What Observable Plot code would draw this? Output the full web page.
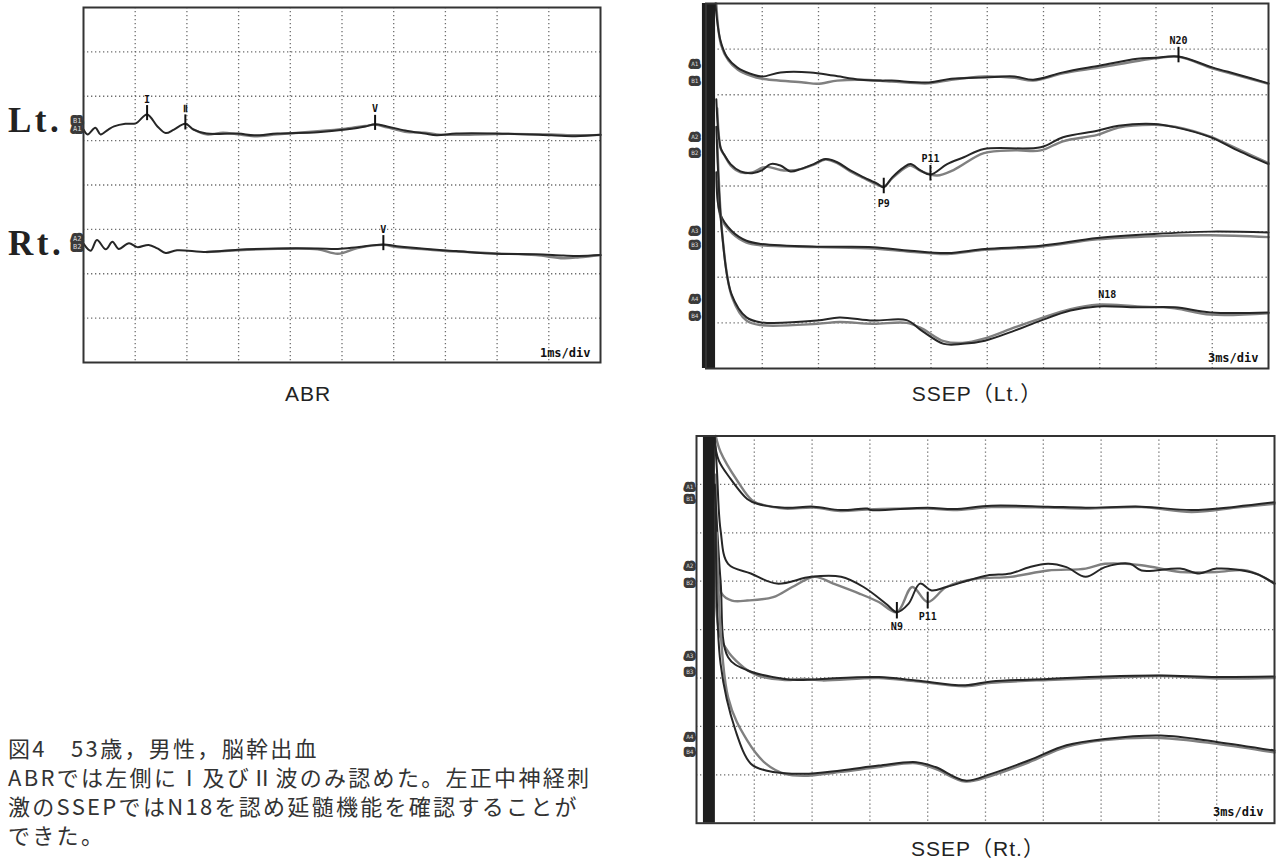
<!DOCTYPE html>
<html><head><meta charset="utf-8">
<script src="https://cdn.jsdelivr.net/npm/d3@7"></script>
<script src="https://cdn.jsdelivr.net/npm/@observablehq/plot@0.6"></script>
<style>
body{margin:0;background:#fff;width:1277px;height:863px;position:relative;overflow:hidden;font-family:"Liberation Sans","Noto Sans CJK JP",sans-serif;}
.abs{position:absolute;}
.side{font-family:"Liberation Serif",serif;font-weight:bold;font-size:35px;line-height:35px;letter-spacing:3.5px;color:#222;}
.ttl{font-size:21px;line-height:21px;color:#222;transform:translate(-50%,-50%);white-space:nowrap;letter-spacing:1px;}
.cap{font-family:"Noto Sans CJK JP",sans-serif;font-size:22px;line-height:29px;color:#333;white-space:pre;letter-spacing:2.3px;}
</style></head><body>
<div id="abr" class="abs" style="left:0;top:0"></div>
<div id="lt" class="abs" style="left:680px;top:0"></div>
<div id="rt" class="abs" style="left:670px;top:425px"></div>
<div class="abs side" style="left:8px;top:103px">Lt.</div>
<div class="abs side" style="left:8px;top:226px">Rt.</div>
<div class="abs ttl" style="left:308px;top:393px">ABR</div>
<div class="abs ttl" style="left:977px;top:393px">SSEP（Lt.）</div>
<div class="abs ttl" style="left:978px;top:848px">SSEP（Rt.）</div>
<div class="abs cap" style="left:8px;top:733px">図4　53歳，男性，脳幹出血
ABRでは左側にⅠ及びⅡ波のみ認めた。左正中神経刺
激のSSEPではN18を認め延髄機能を確認することが
できた。</div>
<script>
// ---------- grid divisions ----------
const abrGridX = [1,2,3,4,5,6,7,8,9];          // ms (1 ms/div)
const ssepGridX = [3,6,9,12,15,18,21,24,27];   // ms (3 ms/div)
const gridY = [1,2,3,4,5,6,7];                 // divisions

// ---------- ABR traces [ms, div] ----------
const abrLtA = [[0,5.25],[0.08,5.14],[0.23,5.29],[0.33,5.14],[0.48,5.25],[0.59,5.32],[0.81,5.38],[1.01,5.39],[1.23,5.59],[1.43,5.32],[1.59,5.17],[1.75,5.25],[1.97,5.38],[2.13,5.25],[2.38,5.16],[2.99,5.16],[3.3,5.12],[3.75,5.16],[4.53,5.19],[5.07,5.25],[5.45,5.32],[5.64,5.37],[5.87,5.32],[6.22,5.23],[6.6,5.16],[6.83,5.12],[7.21,5.16],[7.98,5.16],[9.05,5.12],[9.52,5.1],[10,5.13]];
const abrLtB = [[2.13,5.25],[2.38,5.14],[2.7,5.18],[2.99,5.14],[3.3,5.1],[3.75,5.14],[4.53,5.21],[5.07,5.27],[5.45,5.33],[5.64,5.36],[5.87,5.3],[6.22,5.2],[6.6,5.18],[6.83,5.14],[7.21,5.13],[7.98,5.15],[9.05,5.14],[9.52,5.12],[10,5.13]];
const abrRtA = [[0,2.68],[0.14,2.52],[0.26,2.76],[0.43,2.55],[0.56,2.72],[0.68,2.56],[0.88,2.69],[1.04,2.6],[1.26,2.65],[1.43,2.57],[1.59,2.47],[1.81,2.53],[2.38,2.49],[2.99,2.54],[3.76,2.57],[4.53,2.57],[4.92,2.56],[5.3,2.6],[5.8,2.66],[6.06,2.62],[6.83,2.54],[7.21,2.51],[7.98,2.45],[8.75,2.44],[9.28,2.41],[9.59,2.4],[10,2.42]];
const abrRtB = [[2.38,2.49],[2.99,2.53],[3.76,2.56],[4.53,2.55],[4.92,2.45],[5.3,2.58],[5.8,2.65],[6.06,2.6],[6.83,2.53],[7.21,2.5],[7.98,2.46],[8.75,2.42],[9.28,2.35],[9.59,2.37],[10,2.42]];
const abrPeaks = [{label:"I",t:1.23,v:5.59},{label:"Ⅱ",t:1.97,v:5.38},{label:"V",t:5.64,v:5.37},{label:"V",t:5.8,v:2.66}];
const abrBoxes = [{label:"B1",v:5.44},{label:"A1",v:5.26},{label:"A2",v:2.79},{label:"B2",v:2.61}];

// ---------- SSEP (Lt.) traces [ms, div] ----------
const ltCh1A = [[0.5,8],[0.77,7.19],[1.13,6.82],[1.66,6.6],[2.37,6.46],[3.0,6.4],[3.97,6.49],[5.57,6.49],[6.8,6.42],[8.24,6.33],[9.31,6.31],[9.9,6.31],[11.89,6.27],[13.08,6.35],[14.87,6.38],[16.46,6.4],[17.45,6.33],[19.04,6.49],[21.03,6.64],[23.0,6.79],[24.0,6.81],[25.2,6.84],[27.0,6.6],[28.4,6.44],[30,6.25]];
const ltCh1B = [[0.55,8],[0.8,7.1],[1.2,6.75],[1.7,6.55],[2.37,6.42],[3.0,6.35],[5.2,6.27],[5.93,6.24],[7.0,6.31],[8.24,6.33],[9.9,6.29],[11.89,6.25],[13.08,6.33],[14.87,6.4],[16.46,6.37],[17.45,6.31],[19.04,6.47],[21.03,6.6],[23.0,6.74],[24.0,6.8],[25.2,6.83],[27.0,6.58],[28.4,6.42],[30,6.24]];
const ltCh2A = [[0.55,5.9],[0.77,4.85],[0.95,4.7],[1.31,4.48],[1.84,4.32],[2.46,4.28],[3.0,4.35],[3.44,4.48],[3.97,4.45],[4.51,4.32],[5.04,4.37],[5.75,4.48],[6.37,4.59],[7.0,4.52],[7.7,4.34],[8.42,4.19],[9.13,4.05],[9.48,3.97],[9.93,4.19],[10.55,4.41],[10.91,4.48],[11.44,4.34],[11.97,4.25],[12.86,4.48],[13.75,4.63],[14.82,4.81],[17.85,4.85],[19.04,5.07],[20.87,5.21],[22.0,5.32],[23.9,5.36],[25.0,5.29],[26.9,5.07],[28.2,4.81],[30,4.48]];
const ltCh2B = [[0.6,5.7],[0.8,4.8],[1.0,4.66],[1.31,4.45],[1.84,4.3],[2.46,4.3],[3.0,4.4],[3.3,4.42],[3.97,4.35],[4.51,4.34],[5.04,4.37],[5.75,4.47],[6.37,4.58],[7.0,4.5],[7.7,4.32],[8.42,4.17],[9.13,4.03],[9.48,3.99],[9.93,4.17],[10.55,4.38],[10.91,4.45],[11.44,4.33],[12.33,4.23],[13.2,4.35],[14.82,4.72],[16.5,4.78],[17.85,4.78],[19.04,4.98],[20.87,5.12],[22.0,5.28],[23.9,5.34],[25.0,5.3],[26.9,5.08],[28.2,4.84],[30,4.5]];
const ltCh3A = [[0.55,4.3],[0.76,3.39],[1.36,3.02],[2.16,2.8],[2.95,2.73],[5.93,2.67],[8.9,2.66],[10.9,2.58],[12.88,2.53],[14.87,2.62],[17.85,2.69],[20.87,2.86],[23.9,2.95],[26.9,3.0],[30,2.98]];
const ltCh3B = [[0.6,4.1],[0.8,3.3],[1.4,2.96],[2.16,2.76],[2.95,2.7],[5.93,2.66],[8.9,2.63],[10.9,2.56],[12.88,2.51],[14.87,2.6],[17.85,2.67],[20.87,2.83],[23.9,2.9],[26.9,2.92],[30,2.88]];
const ltCh4A = [[0.55,5.3],[0.86,2.95],[1.36,1.63],[2.16,1.12],[2.95,1.01],[5.93,1.05],[7.12,1.12],[8.9,1.05],[10.7,1.06],[11.5,0.83],[12.68,0.54],[13.68,0.54],[14.87,0.61],[16.46,0.83],[17.85,1.05],[19.44,1.27],[20.87,1.36],[23.0,1.34],[25.0,1.34],[26.9,1.23],[30,1.23]];
const ltCh4B = [[0.6,5.0],[0.9,2.8],[1.4,1.55],[2.16,1.05],[2.95,0.95],[5.93,0.98],[7.12,1.02],[8.9,0.98],[10.7,1.0],[11.5,0.88],[12.68,0.6],[13.68,0.56],[14.87,0.66],[16.46,0.9],[17.85,1.1],[19.44,1.3],[20.87,1.4],[23.0,1.36],[25.0,1.32],[26.9,1.18],[30,1.21]];
const ltPeaksAbove = [{label:"N20",t:25.2,v:6.84},{label:"P11",t:11.97,v:4.25}];
const ltPeaksBelow = [{label:"P9",t:9.48,v:3.97}];
const ltLabelsOnly = [{label:"N18",t:21.4,v:1.45}];
const ltBoxes = [{label:"A1",v:6.68},{label:"B1",v:6.31},{label:"A2",v:5.08},{label:"B2",v:4.73},{label:"A3",v:3.02},{label:"B3",v:2.71},{label:"A4",v:1.53},{label:"B4",v:1.14}];
const ltArtifact = [[-0.19,0.51]];

// ---------- SSEP (Rt.) traces [ms, div] ----------
const rtCh1A = [[0.9,8],[1.16,7.49],[1.76,7.12],[2.63,6.7],[3.15,6.6],[4.58,6.52],[6.09,6.54],[7.47,6.47],[8.86,6.5],[9.06,6.47],[12.0,6.52],[13.36,6.49],[15.3,6.56],[18.24,6.54],[20.2,6.52],[23.1,6.54],[25.7,6.47],[28.0,6.54],[30,6.63]];
const rtCh1B = [[1.0,8],[1.25,7.67],[2.11,7.08],[2.89,6.67],[3.5,6.57],[4.58,6.5],[6.09,6.52],[7.47,6.45],[8.86,6.48],[12.0,6.5],[13.36,6.47],[15.3,6.53],[18.24,6.52],[20.2,6.5],[23.1,6.53],[25.7,6.43],[28.0,6.52],[30,6.6]];
const rtCh2A = [[0.95,8],[1.06,7.3],[1.25,6.05],[1.64,5.36],[2.82,5.16],[4.18,4.95],[5.94,5.09],[7.5,5.09],[8.67,4.88],[9.85,4.53],[10.4,4.36],[11.0,4.53],[11.6,4.95],[12.2,4.81],[12.97,4.88],[14.14,5.02],[15.1,5.12],[16.3,5.16],[17.27,5.29],[18.25,5.36],[19.2,5.29],[20.2,5.09],[21.2,5.29],[22.5,5.36],[23.1,5.22],[25.1,5.26],[26.1,5.16],[27.0,5.26],[29.0,5.16],[30,4.95]];
const rtCh2B = [[1.0,7.2],[1.1,5.3],[1.3,4.75],[1.84,4.6],[2.63,4.6],[3.98,4.67],[4.97,4.88],[6.13,5.09],[7.1,4.95],[8.48,4.74],[9.46,4.57],[10.4,4.36],[11.2,4.88],[12.0,4.57],[12.97,4.88],[14.5,5.05],[16.3,5.09],[18.25,5.22],[20.2,5.26],[21.2,5.36],[23.1,5.33],[25.1,5.19],[27.0,5.19],[28.6,5.22],[30,4.95]];
const rtCh3A = [[0.95,7.0],[1.25,5.0],[1.64,3.43],[2.63,3.16],[4.58,2.98],[5.55,2.96],[6.53,2.98],[9.46,3.02],[11.4,2.95],[13.95,2.85],[15.3,2.93],[18.25,2.98],[21.2,3.03],[24.1,3.05],[27.0,3.02],[30,3.03]];
const rtCh3B = [[1.0,6.0],[1.25,3.84],[2.23,3.29],[3.2,3.05],[4.58,2.96],[5.55,2.98],[6.53,2.95],[9.46,3.0],[11.4,2.93],[13.95,2.83],[15.3,2.9],[18.25,2.96],[21.2,3.0],[24.1,3.04],[27.0,2.99],[30,3.0]];
const rtCh4A = [[1.0,6.5],[1.25,3.29],[2.03,1.91],[2.82,1.23],[3.6,1.09],[5.55,1.02],[7.5,1.09],[9.46,1.19],[11.4,1.26],[12.4,1.16],[13.95,0.88],[15.3,1.02],[17.27,1.3],[19.2,1.61],[21.2,1.74],[24.1,1.81],[27.0,1.68],[30,1.5]];
const rtCh4B = [[1.05,6.0],[1.64,2.6],[2.63,1.71],[3.6,1.23],[4.58,1.02],[5.55,0.98],[7.5,1.06],[9.46,1.16],[11.4,1.24],[12.4,1.12],[13.95,0.86],[15.3,0.98],[17.27,1.26],[19.2,1.58],[21.2,1.72],[24.1,1.76],[27.0,1.64],[30,1.46]];
const rtPeaksBelow = [{label:"N9",t:10.4,v:4.36},{label:"P11",t:12.0,v:4.57}];
const rtBoxes = [{label:"A1",v:6.94},{label:"B1",v:6.69},{label:"A2",v:5.32},{label:"B2",v:4.97},{label:"A3",v:3.45},{label:"B3",v:3.12},{label:"A4",v:1.77},{label:"B4",v:1.46}];
const rtArtifact = [[0.36,0.98]];

// ---------- drawing ----------
const tx = d => d[0], ty = d => d[1];
const lblFont = "DejaVu Sans Mono";

function traceMarks(pairs) {
  const m = [];
  for (const [a, b] of pairs) {
    m.push(Plot.line(b, {x: tx, y: ty, stroke: "#808080", strokeWidth: 2.4, curve: "catmull-rom"}));
    m.push(Plot.line(a, {x: tx, y: ty, stroke: "#262626", strokeWidth: 2, curve: "catmull-rom"}));
  }
  return m;
}
function baseMarks(gx) {
  return [
    Plot.gridX(gx, {stroke: "#555", strokeOpacity: 0.85, strokeWidth: 1.3, strokeDasharray: "1.3,2.7"}),
    Plot.gridY(gridY, {stroke: "#555", strokeOpacity: 0.85, strokeWidth: 1.3, strokeDasharray: "1.3,2.7"})
  ];
}
function peakMarks(peaks) {
  return Plot.ruleX(peaks, {x: "t", y1: d => d.v - 0.14, y2: d => d.v + 0.2, stroke: "#111", strokeWidth: 2});
}
function peakText(peaks, dy) {
  return Plot.text(peaks, {x: "t", y: "v", text: "label", dy, fontFamily: lblFont, fontWeight: "bold", fontSize: 10, fill: "#111"});
}
function boxText(boxes, tPos, fs) {
  return Plot.text(boxes, {x: () => tPos, y: "v", text: "label", fontFamily: lblFont, fontSize: fs, fill: "#ddd",
    stroke: "#3a3a3a", strokeWidth: 6, strokeLinejoin: "round", paintOrder: "stroke"});
}
function divText(s, dx, dy) {
  return Plot.text([s], {frameAnchor: "bottom-right", dx, dy, fontFamily: lblFont, fontWeight: "bold", fontSize: 12, fill: "#111"});
}

const common = {y: {axis: null, domain: [0, 8]}, style: {background: "transparent", overflow: "visible"}};

// ABR
const abr = Plot.plot({
  ...common, width: 610, height: 370, marginLeft: 83, marginRight: 10, marginTop: 7, marginBottom: 8,
  x: {axis: null, domain: [0, 10]},
  marks: [
    ...baseMarks(abrGridX),
    ...traceMarks([[abrLtA, abrLtB], [abrRtA, abrRtB]]),
    peakMarks(abrPeaks),
    peakText(abrPeaks, -15),
    boxText(abrBoxes, -0.12, 7),
    divText("1ms/div", -10, -6),
    Plot.frame({stroke: "#333", strokeWidth: 2})
  ]
});
document.getElementById("abr").appendChild(abr);

// SSEP Lt
const lt = Plot.plot({
  ...common, width: 597, height: 375, marginLeft: 25.5, marginRight: 9, marginTop: 3, marginBottom: 7,
  x: {axis: null, domain: [0, 30]},
  marks: [
    ...baseMarks(ssepGridX),
    ...traceMarks([[ltCh1A, ltCh1B], [ltCh2A, ltCh2B], [ltCh3A, ltCh3B], [ltCh4A, ltCh4B]]),
    Plot.rect(ltArtifact, {x1: d => d[0], x2: d => d[1], fill: "#1e1e1e"}),
    peakMarks([...ltPeaksAbove, ...ltPeaksBelow]),
    peakText(ltPeaksAbove, -16),
    peakText(ltPeaksBelow, 16),
    peakText(ltLabelsOnly, -8),
    boxText(ltBoxes, -0.6, 6),
    divText("3ms/div", -10, -7),
    Plot.frame({stroke: "#333", strokeWidth: 2})
  ]
});
document.getElementById("lt").appendChild(lt);

// SSEP Rt
const rt = Plot.plot({
  ...common, width: 607, height: 405, marginLeft: 26, marginRight: 3, marginTop: 10.5, marginBottom: 7.3,
  x: {axis: null, domain: [0, 30]},
  marks: [
    ...baseMarks(ssepGridX),
    ...traceMarks([[rtCh1A, rtCh1B], [rtCh2A, rtCh2B], [rtCh3A, rtCh3B], [rtCh4A, rtCh4B]]),
    Plot.rect(rtArtifact, {x1: d => d[0], x2: d => d[1], fill: "#1e1e1e"}),
    peakMarks(rtPeaksBelow),
    peakText(rtPeaksBelow, 15),
    boxText(rtBoxes, -0.35, 6),
    divText("3ms/div", -11, -7),
    Plot.frame({stroke: "#333", strokeWidth: 2})
  ]
});
document.getElementById("rt").appendChild(rt);
</script>
</body></html>
